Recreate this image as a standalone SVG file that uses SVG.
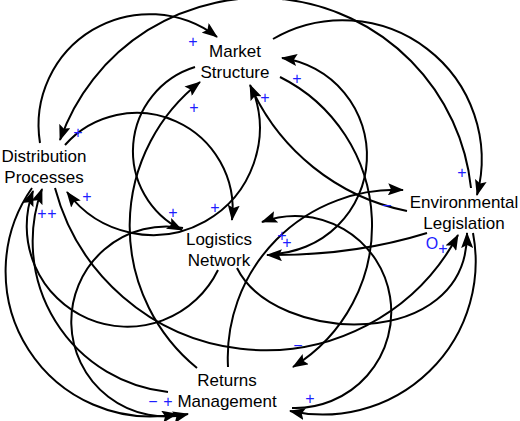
<svg xmlns="http://www.w3.org/2000/svg" width="520" height="421" viewBox="0 0 520 421">
<style>
.c{fill:none;stroke:#000;stroke-width:2;marker-end:url(#ah)}
.n{font-family:"Liberation Sans",Arial,Helvetica,sans-serif;font-size:17px;fill:#000;text-anchor:middle}
.p{font-family:"Liberation Sans",Arial,Helvetica,sans-serif;font-size:16px;fill:#1e1eff;text-anchor:middle}
</style>
<defs>
<marker id="ah" markerUnits="userSpaceOnUse" viewBox="0 0 16 12" refX="15" refY="6" markerWidth="16" markerHeight="12" orient="auto">
<path d="M0,0 L16,6 L0,12 L3,6 Z" fill="#000"/>
</marker>
</defs>
<rect width="520" height="421" fill="#fff"/>
<g id="connectors">
<path class="c" d="M40,143 A111,111 0 0 1 217,37"/>
<path class="c" d="M471,188 A212,212 0 0 0 60,140"/>
<path class="c" d="M273,39 A139,139 0 0 1 477,195"/>
<path class="c" d="M65,145 A96,96 0 0 1 232,220"/>
<path class="c" d="M195,67 A88,88 0 0 0 182,230"/>
<path class="c" d="M197,368 A183,183 0 0 1 200,82"/>
<path class="c" d="M252,88 A107,107 0 0 1 67,192"/>
<path class="c" d="M407,211 A219,219 0 0 1 250,85"/>
<path class="c" d="M272,254 A98.5,98.5 0 0 0 282,58"/>
<path class="c" d="M280,77 A166,166 0 0 1 293,367"/>
<path class="c" d="M228,367 A168,168 0 0 1 403,190"/>
<path class="c" d="M292,408 A96,96 0 1 0 262,222"/>
<path class="c" d="M427,233 Q353,256 267,255"/>
<path class="c" d="M473,233 A153,153 0 0 1 290,411"/>
<path class="c" d="M237,268 C275,345 468,352 467,233"/>
<path class="c" d="M55,188 A218,218 0 0 0 458,235"/>
<path class="c" d="M32,188 A145,145 0 0 0 177,414"/>
<path class="c" d="M183,228 A95,95 0 1 0 188,414"/>
<path class="c" d="M168,392 A151.5,151.5 0 0 1 42,189"/>
<path class="c" d="M218,270 A100.7,100.7 0 0 1 33,191"/>
</g>
<g id="market-structure"><text class="n" x="235" y="57">Market</text><text class="n" x="235" y="78">Structure</text></g>
<g id="distribution-processes"><text class="n" x="44" y="162">Distribution</text><text class="n" x="44" y="183">Processes</text></g>
<g id="environmental-legislation"><text class="n" x="464" y="208">Environmental</text><text class="n" x="464" y="229">Legislation</text></g>
<g id="logistics-network"><text class="n" x="219" y="245">Logistics</text><text class="n" x="219" y="266">Network</text></g>
<g id="returns-management"><text class="n" x="227" y="386">Returns</text><text class="n" x="227" y="407">Management</text></g>
<g id="polarities">
<text class="p" x="193" y="46.5">+</text>
<text class="p" x="78" y="137.5">+</text>
<text class="p" x="462" y="177.5">+</text>
<text class="p" x="215" y="212.5">+</text>
<text class="p" x="173" y="217.5">+</text>
<text class="p" x="194" y="112.5">+</text>
<text class="p" x="87" y="201.5">+</text>
<text class="p" x="265" y="102.5">+</text>
<text class="p" x="297" y="83.5">+</text>
<text class="p" x="387" y="210.5">−</text>
<text class="p" x="282" y="240.5">+</text>
<text class="p" x="287" y="247.5">+</text>
<text class="p" x="432" y="248.5">O</text>
<text class="p" x="443" y="253.5">+</text>
<text class="p" x="298" y="350.5">−</text>
<text class="p" x="310" y="403.5">+</text>
<text class="p" x="153" y="406.5">−</text>
<text class="p" x="168" y="406.5">+</text>
<text class="p" x="42" y="218.5">+</text>
<text class="p" x="52" y="218.5">+</text>
</g>
</svg>
